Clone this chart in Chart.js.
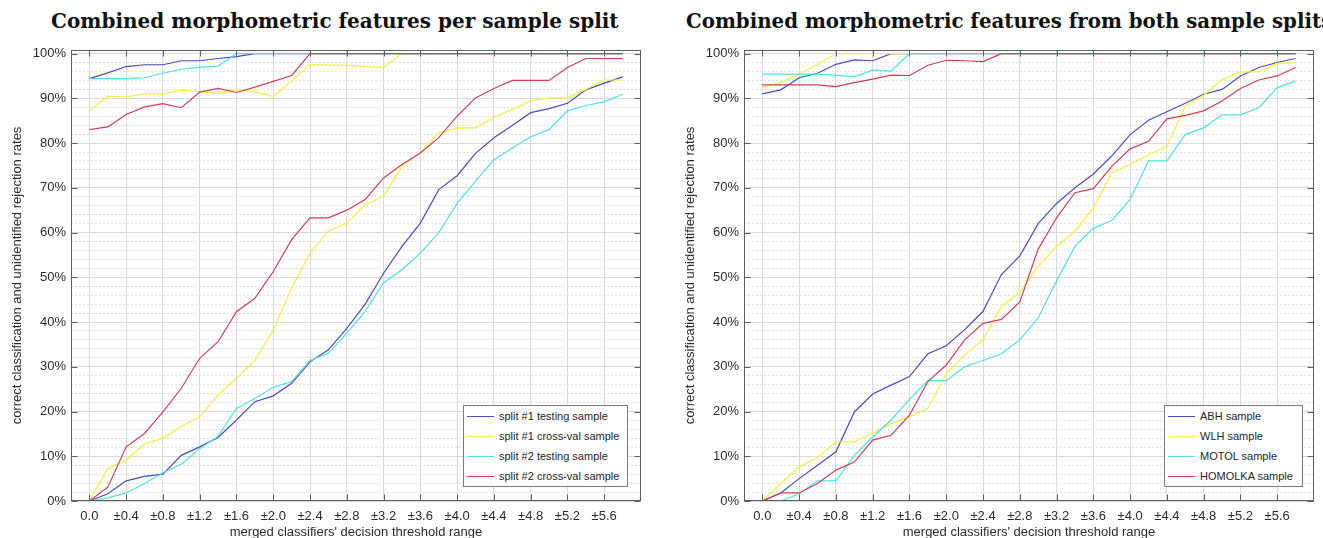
<!DOCTYPE html>
<html>
<head>
<meta charset="utf-8">
<script src="https://cdn.jsdelivr.net/npm/chart.js@4.4.1/dist/chart.umd.min.js"></script>
<style>
    html, body { margin: 0; padding: 0; background: #fff; width: 1323px; height: 538px; overflow: hidden; position: relative; }
    .panel { position: absolute; top: 0; width: 712px; height: 550px; }
    #left-panel { left: 0; }
    #right-panel { left: 673px; }
    .chart-title { position: absolute; top: 9px; line-height: 24px; white-space: nowrap;
        font: bold 20px "DejaVu Serif", serif; color: #111; }
    .legend-box { position: absolute; top: 405px; height: 80px; background: #fff; border: 1px solid #7a7a7a;
        font: 11px "Liberation Sans", Arial, sans-serif; color: #262626; }
    .legend-row { display: flex; align-items: center; height: 20px; padding-left: 3px; }
    .legend-line { width: 27px; height: 0; border-top: 1.2px solid; margin-right: 5px; }
</style>
</head>
<body>
<div class="chart-title" style="left:51px;">Combined morphometric features per sample split</div>
<div class="chart-title" style="left:686px; font-size:19.8px;">Combined morphometric features from both sample splits</div>
<div class="panel" id="left-panel"><canvas id="left-chart"></canvas></div>
<div class="panel" id="right-panel"><canvas id="right-chart"></canvas></div>
<div class="legend-box" id="left-legend" style="left:463px; width:163px;"></div>
<div class="legend-box" id="right-legend" style="left:1164px; width:137px;"></div>
<script>
// 阈值（横轴）
const thresholds = [0.0, 0.2, 0.4, 0.6, 0.8, 1.0, 1.2, 1.4, 1.6, 1.8, 2.0, 2.2, 2.4, 2.6, 2.8,
    3.0, 3.2, 3.4, 3.6, 3.8, 4.0, 4.2, 4.4, 4.6, 4.8, 5.0, 5.2, 5.4, 5.6, 5.8];
const xTickValues = [0.0, 0.4, 0.8, 1.2, 1.6, 2.0, 2.4, 2.8, 3.2, 3.6, 4.0, 4.4, 4.8, 5.2, 5.6];
const xTickLabels = ['0.0', '±0.4', '±0.8', '±1.2', '±1.6', '±2.0', '±2.4', '±2.8', '±3.2', '±3.6',
    '±4.0', '±4.4', '±4.8', '±5.2', '±5.6'];
const yTickValues = [0, 10, 20, 30, 40, 50, 60, 70, 80, 90, 100];

// 左图：per sample split
const splitNames = ['split #1 testing sample', 'split #1 cross-val sample', 'split #2 testing sample', 'split #2 cross-val sample'];
const s1TestLow = [0, 1.6, 4.5, 5.5, 6.0, 10.2, 12.1, 14.2, 18.1, 22.2, 23.5, 26.3, 31.1, 33.8, 38.6,
    44.0, 50.9, 56.9, 62.1, 69.6, 72.7, 77.7, 81.2, 83.9, 86.8, 87.7, 88.9, 91.9, 93.4, 94.8];
const s1TestHigh = [94.4, 95.7, 97.1, 97.5, 97.5, 98.4, 98.4, 98.9, 99.3, 100, 100, 100, 100, 100, 100,
    100, 100, 100, 100, 100, 100, 100, 100, 100, 100, 100, 100, 100, 100, 100];
const s1CvLow = [0, 7.2, 9.1, 12.8, 14.0, 16.7, 18.8, 23.7, 27.4, 31.4, 38.2, 47.6, 55.4, 60.3, 62.1,
    66.2, 68.1, 74.8, 77.8, 82.3, 83.4, 83.4, 85.7, 87.5, 89.4, 90.1, 90.1, 92.0, 94.1, 94.1];
const s1CvHigh = [87.2, 90.5, 90.3, 91.0, 91.0, 91.8, 91.5, 91.1, 91.9, 91.5, 90.4, 93.9, 97.6, 97.4, 97.4,
    97.1, 96.9, 100, 100, 100, 100, 100, 100, 100, 100, 100, 100, 100, 100, 100];
const s2TestLow = [0, 0.7, 1.8, 3.9, 6.3, 8.2, 11.7, 14.5, 20.7, 22.9, 25.4, 26.7, 31.4, 33.0, 37.5,
    42.4, 48.8, 51.7, 55.4, 60.0, 66.5, 71.5, 76.3, 78.9, 81.4, 83.0, 87.2, 88.4, 89.2, 90.9];
const s2TestHigh = [94.4, 94.4, 94.4, 94.6, 95.6, 96.5, 96.9, 97.2, 100, 100, 100, 100, 100, 100, 100,
    100, 100, 100, 100, 100, 100, 100, 100, 100, 100, 100, 100, 100, 100, 100];
const s2CvLow = [0, 3.1, 12.1, 15.1, 19.9, 25.2, 31.9, 35.6, 42.3, 45.3, 51.3, 58.4, 63.3, 63.3, 65.0,
    67.4, 72.2, 75.2, 77.8, 81.2, 86.0, 90.1, 92.2, 94.0, 94.0, 94.0, 96.9, 98.9, 98.9, 98.9];
const s2CvHigh = [83.0, 83.6, 86.4, 88.1, 88.8, 87.9, 91.4, 92.2, 91.3, 92.5, 93.8, 95.1, 100, 100, 100,
    100, 100, 100, 100, 100, 100, 100, 100, 100, 100, 100, 100, 100, 100, 100];

// 右图：from both sample splits
const siteNames = ['ABH sample', 'WLH sample', 'MOTOL sample', 'HOMOLKA sample'];
const abhLow = [0, 1.8, 5.0, 8.0, 11.0, 19.9, 23.9, 25.9, 27.8, 32.9, 34.7, 38.3, 42.4, 50.6, 54.8,
    62.0, 66.5, 70.0, 73.1, 77.1, 81.9, 85.1, 87.0, 88.9, 90.9, 92.0, 95.0, 96.9, 98.0, 98.9];
const abhHigh = [91.0, 91.9, 94.6, 95.6, 97.6, 98.6, 98.4, 100, 100, 100, 100, 100, 100, 100, 100,
    100, 100, 100, 100, 100, 100, 100, 100, 100, 100, 100, 100, 100, 100, 100];
const wlhLow = [0, 3.9, 7.6, 9.7, 13.2, 13.2, 15.2, 17.3, 18.8, 20.7, 28.5, 32.6, 36.0, 43.5, 46.6,
    52.4, 56.9, 60.3, 65.5, 73.3, 75.2, 77.4, 79.2, 88.3, 90.7, 94.2, 95.9, 95.9, 97.8, 98.0];
const wlhHigh = [92.4, 93.5, 95.4, 97.6, 100, 100, 100, 100, 100, 100, 100, 100, 100, 100, 100,
    100, 100, 100, 100, 100, 100, 100, 100, 100, 100, 100, 100, 100, 100, 100];
const motolLow = [0, 0, 1.6, 4.5, 4.5, 10.2, 14.3, 18.1, 22.7, 26.9, 26.9, 30.0, 31.4, 32.9, 36.0,
    40.9, 49.2, 56.9, 61.0, 62.7, 67.4, 76.0, 76.0, 81.9, 83.4, 86.3, 86.3, 87.9, 92.4, 93.9];
const motolHigh = [95.4, 95.4, 95.4, 95.4, 95.2, 94.8, 96.3, 96.1, 100, 100, 100, 100, 100, 100, 100,
    100, 100, 100, 100, 100, 100, 100, 100, 100, 100, 100, 100, 100, 100, 100];
const homolkaLow = [0, 1.8, 1.8, 3.9, 6.9, 8.7, 13.6, 14.7, 19.2, 26.7, 30.4, 36.0, 39.7, 40.6, 44.5,
    56.3, 63.3, 68.9, 69.8, 74.8, 78.7, 80.4, 85.4, 86.2, 87.2, 89.4, 92.2, 94.1, 95.0, 96.9];
const homolkaHigh = [93.0, 93.0, 93.0, 93.0, 92.6, 93.5, 94.3, 95.2, 95.1, 97.4, 98.5, 98.4, 98.2, 100, 100,
    100, 100, 100, 100, 100, 100, 100, 100, 100, 100, 100, 100, 100, 100, 100];

const lineColors = ['#4b4bc4', '#f2f23a', '#4ee3e3', '#cf3f58'];
const drawOrder = [4, 3, 2, 1];   // 红色在最上层

const tickFont = { family: '"Liberation Sans", Arial, sans-serif', size: 13 };
const tickColor = '#2b2b2b';

// MATLAB 风格的外框和向内刻度
const boxPlugin = {
    id: 'matlabBox',
    afterDraw(chart) {
        const { ctx, chartArea: a, scales } = chart;
        const l = Math.round(a.left) + 0.5, r = Math.round(a.right) - 0.5;
        const t = Math.round(a.top) + 0.5, b = Math.round(a.bottom) - 0.5;
        ctx.save();
        ctx.strokeStyle = '#5e5e5e';
        ctx.lineWidth = 1;
        ctx.strokeRect(l, t, r - l, b - t);
        ctx.beginPath();
        xTickValues.forEach(v => {
            const px = Math.round(scales.x.getPixelForValue(v)) + 0.5;
            ctx.moveTo(px, t); ctx.lineTo(px, t + 6);
            ctx.moveTo(px, b); ctx.lineTo(px, b - 6);
        });
        yTickValues.forEach(v => {
            const py = Math.round(scales.y.getPixelForValue(v)) + 0.5;
            ctx.moveTo(l, py); ctx.lineTo(l + 6, py);
            ctx.moveTo(r, py); ctx.lineTo(r - 6, py);
        });
        ctx.stroke();
        ctx.restore();
    }
};

function toPoints(values) {
    return values.map((y, i) => ({ x: thresholds[i], y }));
}

function buildDatasets(names, lows, highs) {
    const sets = [];
    names.forEach((name, k) => {
        const common = {
            borderColor: lineColors[k],
            backgroundColor: lineColors[k],
            borderWidth: 1.2,
            pointRadius: 0,
            tension: 0,
            fill: false,
            order: drawOrder[k]
        };
        sets.push({ ...common, label: name, data: toPoints(lows[k]) });
        sets.push({ ...common, label: name + ' rejection', data: toPoints(highs[k]) });
    });
    return sets;
}

function renderPanel(canvasId, names, lows, highs) {
    const canvas = document.getElementById(canvasId);
    return new Chart(canvas.getContext('2d'), {
        type: 'line',
        data: { datasets: buildDatasets(names, lows, highs) },
        options: {
            responsive: true,
            maintainAspectRatio: false,
            animation: false,
            layout: { padding: { left: 0, right: 71, top: 50, bottom: 0 } },
            plugins: {
                legend: { display: false },
                tooltip: { enabled: false },
                title: { display: false }
            },
            scales: {
                x: {
                    type: 'linear',
                    min: -0.2,
                    max: 6.0,
                    afterBuildTicks: s => { s.ticks = xTickValues.map(v => ({ value: v })); },
                    afterFit: s => { s.height = 49; },
                    ticks: {
                        autoSkip: false,
                        maxRotation: 0,
                        padding: 8,
                        font: tickFont,
                        color: tickColor,
                        callback: (v, i) => xTickLabels[i]
                    },
                    grid: { color: '#d9d9d9', drawTicks: false },
                    border: { display: false },
                    title: {
                        display: true,
                        text: "merged classifiers' decision threshold range",
                        font: tickFont,
                        color: tickColor,
                        padding: { top: 0, bottom: 10 }
                    }
                },
                y: {
                    min: 0,
                    max: 100.8,
                    afterBuildTicks: s => { s.ticks = yTickValues.map(v => ({ value: v })); },
                    afterFit: s => { s.width = 71; },
                    ticks: {
                        padding: 5,
                        font: tickFont,
                        color: tickColor,
                        callback: v => v + '%'
                    },
                    grid: { color: '#d9d9d9', drawTicks: false },
                    border: { display: false },
                    title: {
                        display: true,
                        text: 'correct classification and unidentified rejection rates',
                        font: tickFont,
                        color: tickColor,
                        padding: { top: 10, bottom: 0 }
                    }
                },
                yMinor: {
                    position: 'left',
                    min: 0,
                    max: 100.8,
                    afterBuildTicks: s => {
                        s.ticks = [];
                        for (let v = 2; v < 100; v += 2) {
                            if (v % 10 !== 0) s.ticks.push({ value: v });
                        }
                    },
                    afterFit: s => { s.width = 0; },
                    ticks: { display: false },
                    grid: { color: '#e1e1e1', drawTicks: false },
                    border: { display: false, dash: [2, 2] }
                }
            }
        },
        plugins: [boxPlugin]
    });
}

function renderLegend(containerId, names) {
    const box = document.getElementById(containerId);
    box.innerHTML = names.map((name, k) => `
        <div class="legend-row">
            <span class="legend-line" style="border-top-color:${lineColors[k]}"></span>
            <span>${name}</span>
        </div>`).join('');
}

renderPanel('left-chart', splitNames,
    [s1TestLow, s1CvLow, s2TestLow, s2CvLow], [s1TestHigh, s1CvHigh, s2TestHigh, s2CvHigh]);
renderPanel('right-chart', siteNames,
    [abhLow, wlhLow, motolLow, homolkaLow], [abhHigh, wlhHigh, motolHigh, homolkaHigh]);
renderLegend('left-legend', splitNames);
renderLegend('right-legend', siteNames);
</script>
</body>
</html>
